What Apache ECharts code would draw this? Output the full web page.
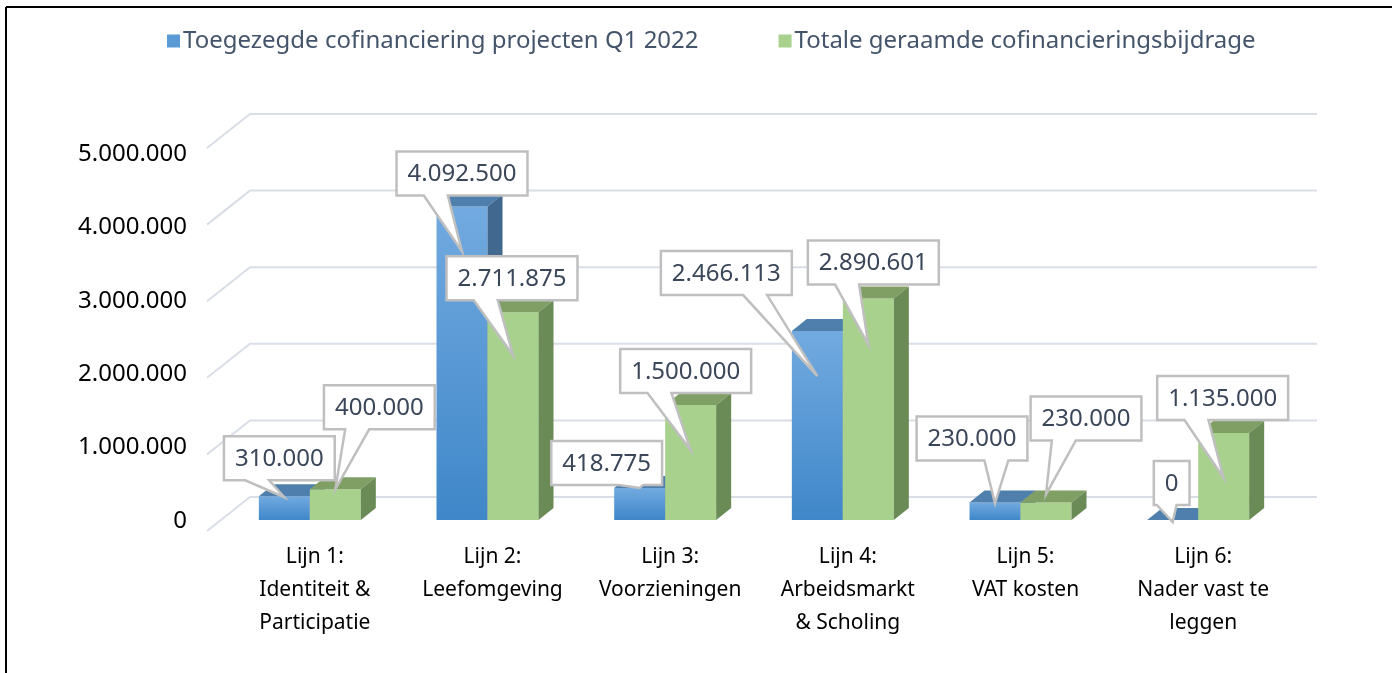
<!DOCTYPE html>
<html>
<head>
<meta charset="utf-8">
<script src="https://cdn.jsdelivr.net/npm/echarts@6/dist/echarts.min.js"></script>
<style>
  html, body { margin: 0; padding: 0; background: #fff; }
  #chart { width: 1392px; height: 673px; }
</style>
</head>
<body>
<div id="chart"></div>
<script>
const categories = [
  'Lijn 1:\nIdentiteit &\nParticipatie',
  'Lijn 2:\nLeefomgeving',
  'Lijn 3:\nVoorzieningen',
  'Lijn 4:\nArbeidsmarkt\n& Scholing',
  'Lijn 5:\nVAT kosten',
  'Lijn 6:\nNader vast te\nleggen'
]
const seriesNames = [
  'Toegezegde cofinanciering projecten Q1 2022',
  'Totale geraamde cofinancieringsbijdrage'
]
const toegezegd = [310000, 4092500, 418775, 2466113, 230000, 0]
const geraamd = [400000, 2711875, 1500000, 2890601, 230000, 1135000]
const yTicks = [0, 1000000, 2000000, 3000000, 4000000, 5000000]

// callout placement per bar: [box dx, box bottom dy, tip dy], relative to the bar's front top centre
const blueCallouts = [[-5, -16, 1], [0, -11, 45], [-33, -3, 0], [-91, -36, 45], [-23, -42, 1], [-1, -15, 2]]
const greenCallouts = [[44, -60, 0], [-1, -12, 43], [-5, -12, 45], [5, -14, 46], [40, -62, -8], [-1, -13, 45]]

const DX = 15
const DY = -12
const LABEL_FONT = '24px "Noto Sans"'

const fmt = (v) => String(v).replace(/\B(?=(\d{3})+(?!\d))/g, '.')

const measureCtx = document.createElement('canvas').getContext('2d')
const textWidth = (t) => {
  measureCtx.font = LABEL_FONT
  return measureCtx.measureText(t).width
}

const palettes = [
  {
    front: new echarts.graphic.LinearGradient(0, 0, 0, 1, [
      { offset: 0, color: '#72aae0' },
      { offset: 1, color: '#3f87c9' }
    ]),
    top: '#4f7fad',
    side: '#41688f',
    legend: '#5b9bd5'
  },
  {
    front: '#a9d18e',
    top: '#7f9f64',
    side: '#6a8a56',
    legend: '#a9d18e'
  }
]

function makeBarRenderer(side, callouts) {
  const colors = palettes[side]
  return function (params, api) {
    const idx = api.value(0)
    const val = api.value(1)
    const base = api.coord([idx, 0])
    const top = api.coord([idx, val])
    const band = api.size([1, 0])[0]
    const w = band * 0.287
    const x0 = side === 0 ? base[0] - w : base[0]
    const x1 = x0 + w
    const yb = base[1]
    const yt = top[1]
    const cx = x0 + w / 2

    const children = [
      {
        type: 'rect',
        shape: { x: x0, y: yt, width: w, height: yb - yt },
        style: { fill: colors.front }
      },
      {
        type: 'polygon',
        shape: { points: [[x0, yt], [x0 + DX, yt + DY], [x1 + DX, yt + DY], [x1, yt]] },
        style: { fill: colors.top }
      },
      {
        type: 'polygon',
        shape: { points: [[x1, yt], [x1 + DX, yt + DY], [x1 + DX, yb + DY], [x1, yb]] },
        style: { fill: colors.side }
      }
    ]

    // callout box with pointer
    const c = callouts[idx]
    const text = fmt(val)
    const bw = textWidth(text) + 22
    const bh = 44
    const boxCx = cx + c[0]
    const bBottom = yt + c[1]
    const bTop = bBottom - bh
    const bLeft = boxCx - bw / 2
    const bRight = boxCx + bw / 2
    const tip = [cx, yt + c[2]]
    const frac = boxCx < cx - 15 ? 0.72 : 0.3
    const bc = bLeft + frac * bw
    const baseL = Math.max(bLeft + 3, bc - 12)
    const baseR = Math.min(bRight - 3, bc + 12)

    children.push({
      type: 'polygon',
      z2: 100,
      shape: {
        points: [
          [bLeft, bTop], [bRight, bTop], [bRight, bBottom],
          [baseR, bBottom], tip, [baseL, bBottom], [bLeft, bBottom]
        ]
      },
      style: { fill: '#fff', stroke: '#bfbfbf', lineWidth: 2.5, lineJoin: 'miter' }
    })
    children.push({
      type: 'text',
      z2: 101,
      style: {
        text: text,
        x: boxCx,
        y: bTop + bh / 2 + 1,
        align: 'center',
        verticalAlign: 'middle',
        font: LABEL_FONT,
        fill: '#3a4659'
      }
    })

    return { type: 'group', children }
  }
}

function renderGridLine(params, api) {
  const v = api.value(1)
  const band = api.size([1, 0])[0]
  const p0 = api.coord([0, v])
  const pn = api.coord([categories.length - 1, v])
  const left = p0[0] - band / 2
  const right = pn[0] + band / 2
  const y = p0[1]
  return {
    type: 'polyline',
    shape: { points: [[left - 14, y + 11], [left + 29, y - 23], [right + 30, y - 23]] },
    style: { stroke: '#d9dee6', lineWidth: 2, fill: null }
  }
}

const chart = echarts.init(document.getElementById('chart'))

chart.setOption({
  animation: false,
  legend: {
    data: seriesNames,
    top: 24,
    left: 162,
    icon: 'rect',
    itemWidth: 13,
    itemHeight: 13,
    itemGap: 80,
    textStyle: { fontFamily: 'Noto Sans', fontSize: 24, color: '#44546a', padding: [0, 0, 0, -2] }
  },
  graphic: [
    { type: 'line', shape: { x1: 6, y1: 7, x2: 1392, y2: 7 }, style: { stroke: '#000', lineWidth: 2 } },
    { type: 'line', shape: { x1: 6, y1: 7, x2: 6, y2: 673 }, style: { stroke: '#000', lineWidth: 2 } }
  ],
  grid: [
    { left: 195, top: 154, width: 1066, height: 367 },
    { left: 221, top: 137, width: 1066, height: 383 }
  ],
  xAxis: [
    { type: 'category', gridIndex: 0, data: categories, show: false },
    {
      type: 'category',
      gridIndex: 1,
      data: categories,
      axisLine: { show: false },
      axisTick: { show: false },
      axisLabel: {
        interval: 0,
        margin: 21,
        fontFamily: 'Noto Sans',
        fontSize: 21,
        lineHeight: 33,
        color: '#000',
        padding: [0, 0, 0, 10]
      }
    }
  ],
  yAxis: [
    {
      type: 'value',
      gridIndex: 0,
      min: 0,
      max: 5000000,
      interval: 1000000,
      axisLine: { show: false },
      axisTick: { show: false },
      splitLine: { show: false },
      axisLabel: {
        fontFamily: 'Noto Sans',
        fontSize: 24,
        color: '#000',
        formatter: fmt
      }
    },
    { type: 'value', gridIndex: 1, min: 0, max: 5000000, interval: 1000000, show: false }
  ],
  series: [
    {
      type: 'custom',
      name: 'gridlines',
      xAxisIndex: 1,
      yAxisIndex: 1,
      z: 1,
      silent: true,
      renderItem: renderGridLine,
      data: yTicks.map((v) => [0, v])
    },
    {
      type: 'custom',
      name: seriesNames[0],
      xAxisIndex: 1,
      yAxisIndex: 1,
      z: 2,
      itemStyle: { color: palettes[0].legend },
      renderItem: makeBarRenderer(0, blueCallouts),
      data: toegezegd.map((v, i) => [i, v])
    },
    {
      type: 'custom',
      name: seriesNames[1],
      xAxisIndex: 1,
      yAxisIndex: 1,
      z: 2,
      itemStyle: { color: palettes[1].legend },
      renderItem: makeBarRenderer(1, greenCallouts),
      data: geraamd.map((v, i) => [i, v])
    }
  ]
})
</script>
</body>
</html>
